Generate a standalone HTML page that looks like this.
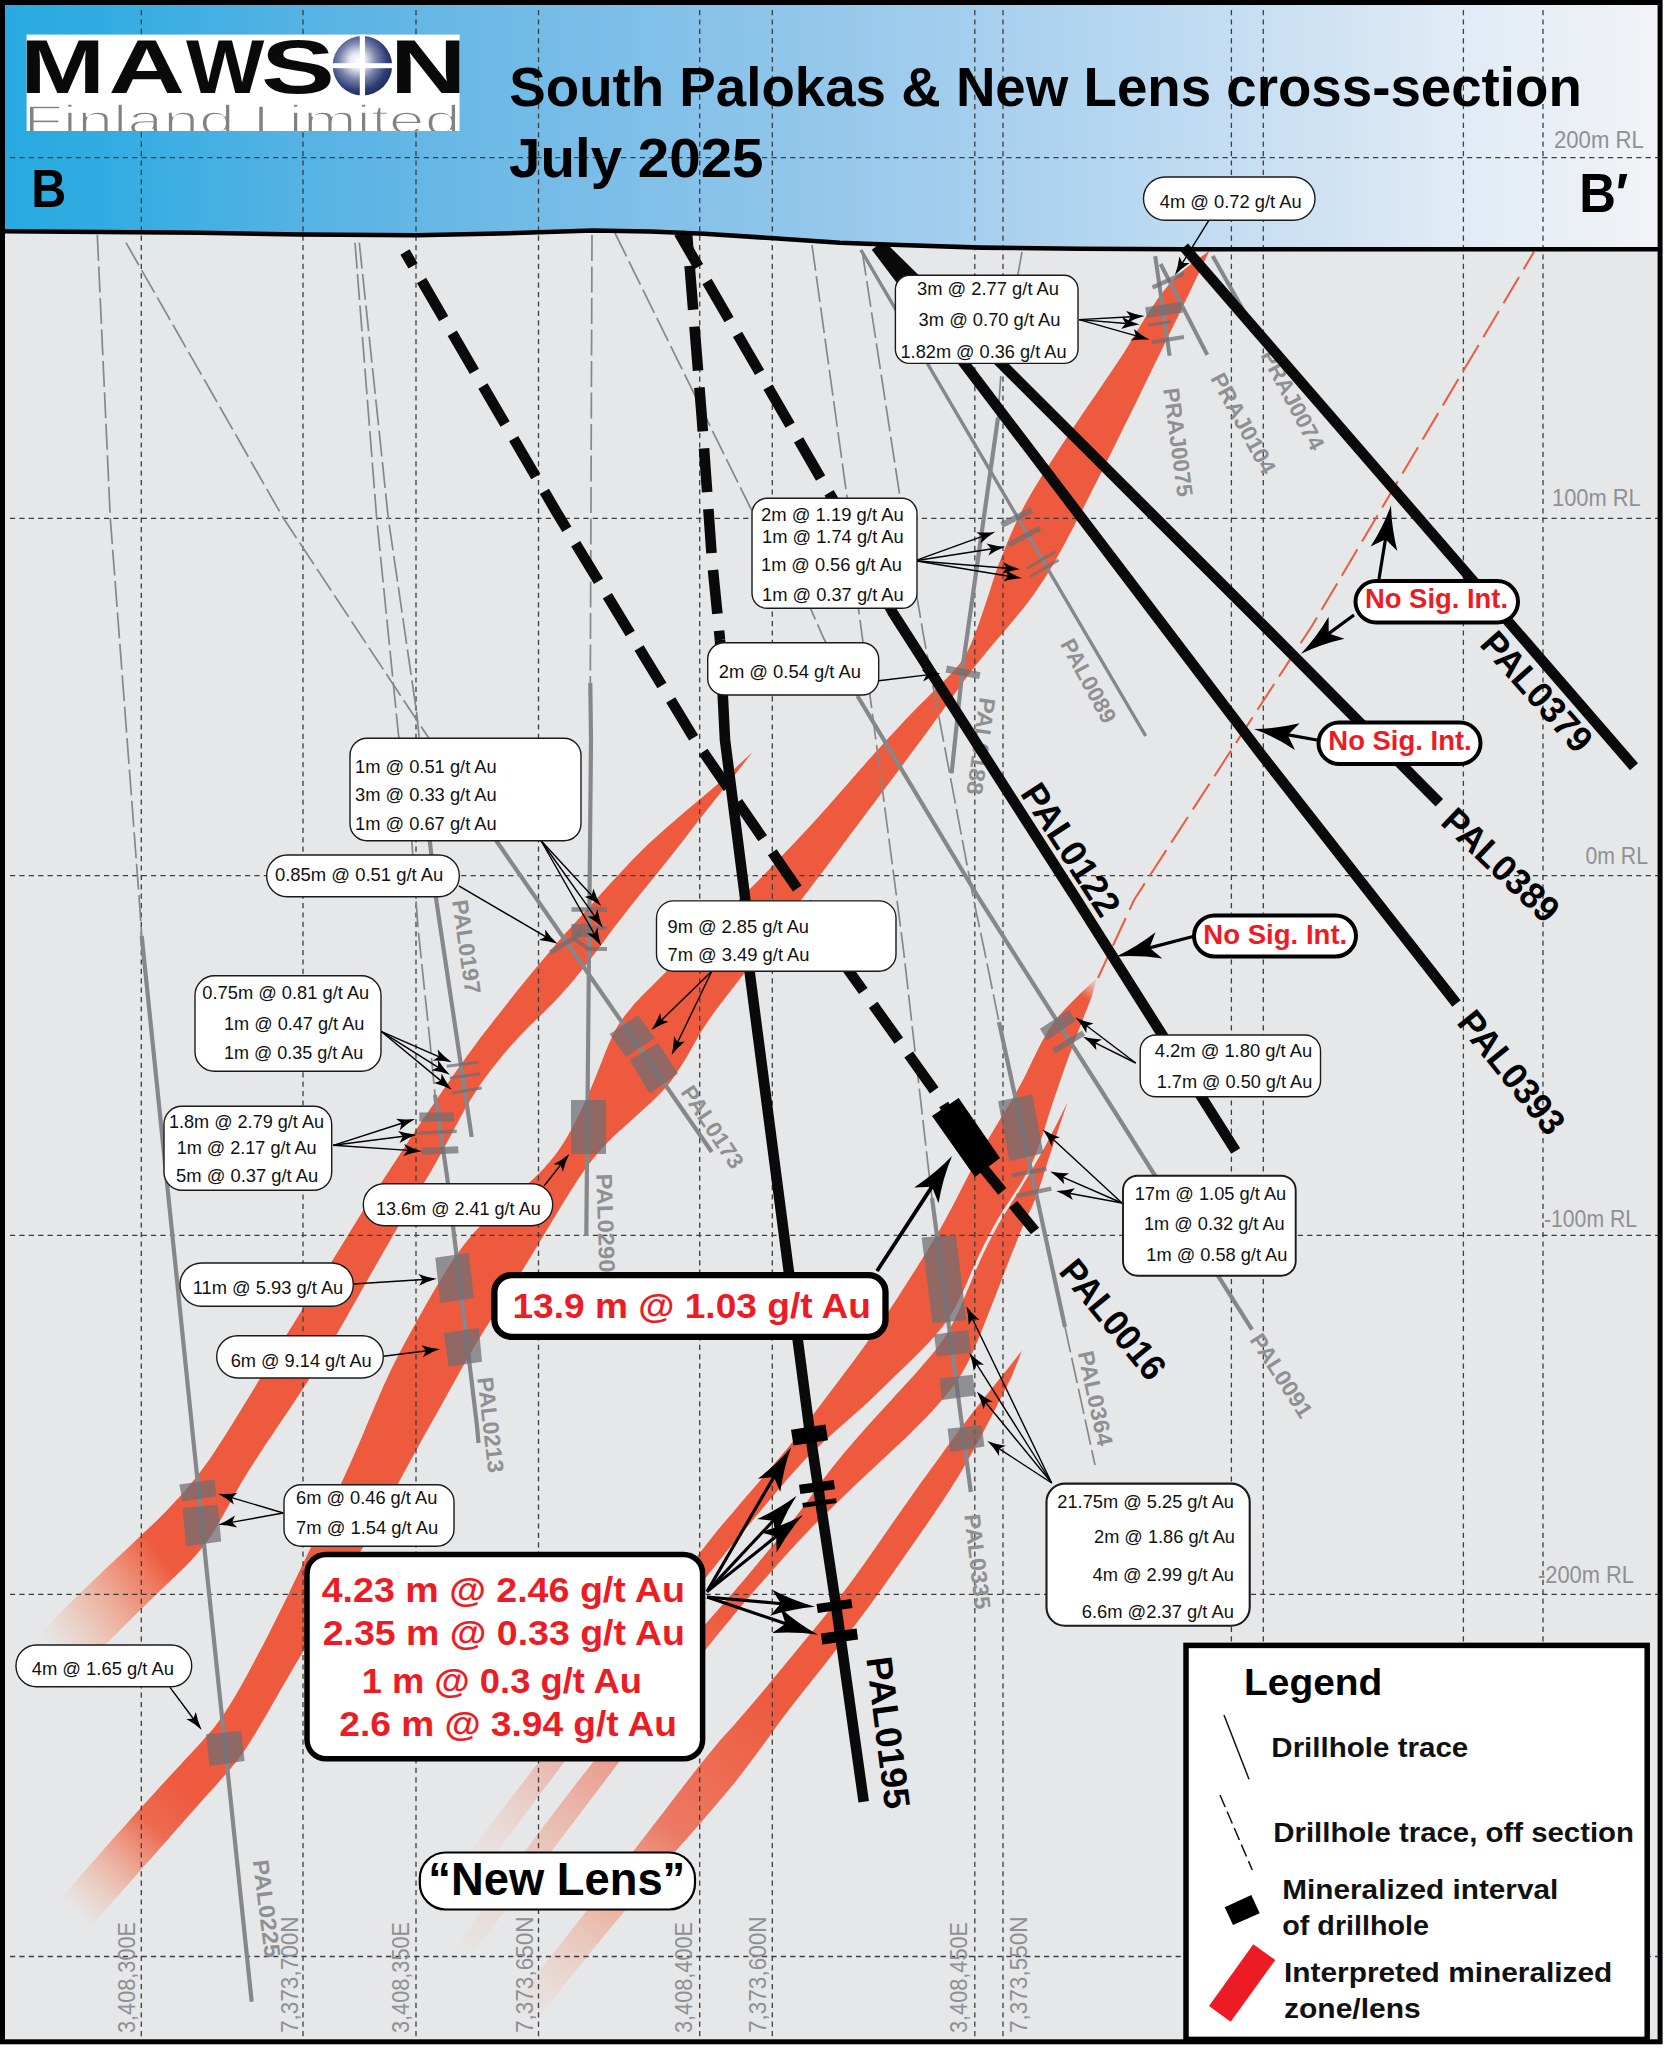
<!DOCTYPE html>
<html lang="en"><head><meta charset="utf-8"><title>South Palokas &amp; New Lens cross-section</title>
<style>html,body{margin:0;padding:0;background:#fff}svg{display:block}svg text{font-family:"Liberation Sans",Arial,Helvetica,sans-serif}</style></head>
<body>
<svg width="1671" height="2048" viewBox="0 0 1671 2048" font-family="Liberation Sans, Arial, Helvetica, sans-serif">
<defs>
<linearGradient id="hdr" x1="0" y1="0" x2="1" y2="0">
<stop offset="0" stop-color="#27AAE1"/><stop offset="0.06" stop-color="#31ACE2"/><stop offset="0.18" stop-color="#55B2E4"/><stop offset="0.32" stop-color="#73BBE7"/><stop offset="0.45" stop-color="#8CC4EA"/>
<stop offset="0.6" stop-color="#A8D0EE"/><stop offset="0.75" stop-color="#C6DEF2"/><stop offset="0.88" stop-color="#E1EBF5"/><stop offset="1" stop-color="#F2F3F6"/>
</linearGradient>
<linearGradient id="gA" gradientUnits="userSpaceOnUse" x1="162" y1="1558" x2="45" y2="1643"><stop offset="0" stop-color="#EE5A3E" stop-opacity="1"/><stop offset="1" stop-color="#F7A070" stop-opacity="0"/></linearGradient>
<linearGradient id="gB" gradientUnits="userSpaceOnUse" x1="185" y1="1790" x2="72" y2="1912"><stop offset="0" stop-color="#EE5A3E" stop-opacity="1"/><stop offset="0.3" stop-color="#EE5A3E" stop-opacity="0.88"/><stop offset="1" stop-color="#F7A070" stop-opacity="0"/></linearGradient>
<linearGradient id="gC" gradientUnits="userSpaceOnUse" x1="700" y1="1580" x2="470" y2="1870"><stop offset="0" stop-color="#EE5A3E" stop-opacity="1"/><stop offset="0.6" stop-color="#EE5A3E" stop-opacity="0.38"/><stop offset="1" stop-color="#F7A070" stop-opacity="0"/></linearGradient>
<linearGradient id="gD" gradientUnits="userSpaceOnUse" x1="720" y1="1610" x2="455" y2="1960"><stop offset="0" stop-color="#EE5A3E" stop-opacity="1"/><stop offset="0.45" stop-color="#EE5A3E" stop-opacity="0.5"/><stop offset="1" stop-color="#F7A070" stop-opacity="0"/></linearGradient>
<linearGradient id="gE" gradientUnits="userSpaceOnUse" x1="770" y1="1700" x2="520" y2="2015"><stop offset="0" stop-color="#EE5A3E" stop-opacity="1"/><stop offset="0.4" stop-color="#EE5A3E" stop-opacity="0.78"/><stop offset="1" stop-color="#F7A070" stop-opacity="0"/></linearGradient>
<linearGradient id="gT" gradientUnits="userSpaceOnUse" x1="1099" y1="976" x2="1080" y2="1008"><stop offset="0" stop-color="#EE5A3E" stop-opacity="0"/><stop offset="1" stop-color="#EE5A3E" stop-opacity="1"/></linearGradient>
<radialGradient id="globe" cx="0.42" cy="0.42" r="0.62"><stop offset="0" stop-color="#fff"/><stop offset="0.22" stop-color="#E4E7F0"/><stop offset="0.5" stop-color="#7B86AE"/><stop offset="0.8" stop-color="#2E3D75"/><stop offset="1" stop-color="#202C5E"/></radialGradient>
<clipPath id="frame"><rect x="3" y="3" width="1657" height="2039"/></clipPath>
<clipPath id="logoc"><rect x="26.6" y="34.6" width="433" height="96.4"/></clipPath>
</defs>
<rect x="0" y="0" width="1671" height="2048" fill="#fff"/>
<rect x="2.5" y="2.5" width="1657.6" height="2039.3" fill="#E6E7E8"/>
<polygon points="2.5,2.5 1660.0,2.5 1662.0,249.2 1182.0,249.2 1080.0,248.8 981.0,247.6 900.0,245.0 840.0,242.8 770.0,238.0 704.0,233.8 650.0,231.5 593.0,230.5 500.0,233.5 417.0,235.3 300.0,234.5 200.0,232.8 3.0,231.3" fill="url(#hdr)" />
<g clip-path="url(#frame)">
<path d="M752.7,752.0 C746.2,758.0 726.2,776.5 713.4,787.8 C700.6,799.0 687.5,809.5 676.0,819.5 C664.5,829.5 654.0,838.6 644.2,848.0 C634.5,857.4 627.0,865.7 617.8,875.6 C608.5,885.6 599.0,896.2 588.6,907.8 C578.2,919.3 566.2,932.3 555.3,944.9 C544.4,957.5 533.0,971.3 523.3,983.2 C513.6,995.1 505.0,1006.3 497.4,1016.1 C489.7,1026.0 483.9,1033.2 477.2,1042.2 C470.4,1051.2 463.7,1060.4 457.0,1070.0 C450.2,1079.6 443.2,1090.1 436.6,1099.6 C430.1,1109.2 423.8,1118.2 417.8,1127.2 C411.7,1136.2 406.0,1144.9 400.4,1153.5 C394.8,1162.1 390.1,1169.2 384.0,1178.5 C377.9,1187.8 371.4,1197.3 363.8,1209.4 C356.1,1221.6 346.6,1237.3 337.9,1251.6 C329.2,1265.8 321.1,1279.0 311.4,1294.7 C301.8,1310.3 291.5,1326.8 280.2,1345.3 C268.9,1363.8 254.4,1388.2 243.5,1405.8 C232.7,1423.5 223.6,1438.4 215.1,1451.0 C206.7,1463.7 200.9,1471.5 192.7,1481.6 C184.5,1491.7 175.8,1501.3 165.8,1511.5 C155.8,1521.8 144.4,1532.3 132.8,1543.2 C121.3,1554.2 108.0,1566.2 96.4,1577.4 C84.7,1588.5 72.6,1600.2 62.8,1610.2 C53.1,1620.2 45.0,1629.4 37.9,1637.4 C30.8,1645.3 23.0,1654.6 20.0,1658.0 L92.0,1658.0 C95.7,1654.4 105.7,1644.3 113.9,1636.2 C122.2,1628.0 132.3,1617.8 141.2,1609.0 C150.2,1600.2 159.4,1591.3 167.6,1583.4 C175.8,1575.4 183.4,1568.6 190.3,1561.2 C197.2,1553.8 203.3,1547.0 208.9,1539.1 C214.5,1531.2 218.5,1523.2 223.8,1514.0 C229.1,1504.8 234.4,1494.4 240.6,1484.0 C246.8,1473.6 253.6,1462.9 260.9,1451.7 C268.3,1440.4 276.3,1428.9 284.5,1416.6 C292.8,1404.3 302.0,1390.5 310.2,1377.6 C318.5,1364.7 326.4,1351.6 333.9,1339.1 C341.3,1326.5 348.1,1314.4 355.0,1302.3 C361.9,1290.2 368.4,1278.2 375.2,1266.4 C381.9,1254.6 388.5,1243.1 395.3,1231.4 C402.2,1219.7 409.7,1207.4 416.4,1196.0 C423.2,1184.5 430.0,1173.0 435.9,1162.8 C441.7,1152.6 446.4,1143.6 451.3,1134.5 C456.2,1125.5 460.2,1117.4 465.3,1108.6 C470.4,1099.8 475.7,1091.1 482.1,1082.0 C488.5,1072.9 496.5,1062.7 503.6,1054.2 C510.7,1045.7 518.5,1037.5 524.7,1030.9 C530.9,1024.4 535.8,1020.0 541.0,1014.9 C546.2,1009.7 550.7,1005.5 555.9,1000.0 C561.1,994.5 566.7,988.3 572.1,982.0 C577.5,975.7 583.2,968.4 588.2,962.0 C593.3,955.6 597.5,949.9 602.2,943.5 C607.0,937.1 611.2,931.2 617.0,923.8 C622.8,916.2 629.8,907.3 636.8,898.5 C643.8,889.7 651.6,880.2 659.0,871.0 C666.4,861.8 673.2,853.2 680.9,843.5 C688.5,833.7 696.3,823.5 704.9,812.6 C713.5,801.7 727.8,783.7 732.4,777.9 Z" fill="url(#gA)"/>
<path d="M1209.4,250.8 C1203.8,255.2 1185.6,267.2 1175.8,277.0 C1166.1,286.8 1160.1,295.5 1150.6,309.4 C1141.1,323.3 1132.3,339.9 1118.8,360.6 C1105.2,381.3 1084.9,409.9 1069.4,433.6 C1053.9,457.4 1037.2,482.4 1025.8,503.1 C1014.5,523.8 1007.6,542.1 1001.2,557.9 C994.8,573.7 991.4,586.5 987.5,598.0 C983.6,609.5 980.9,618.2 977.6,627.0 C974.4,635.7 971.7,643.4 967.9,650.5 C964.2,657.6 960.7,662.7 954.9,669.6 C949.1,676.4 941.5,683.2 933.2,691.6 C924.8,700.1 914.5,710.2 904.7,720.4 C895.0,730.7 884.8,741.9 874.8,753.0 C864.8,764.1 854.8,775.8 844.9,787.0 C835.0,798.2 824.9,809.8 815.4,820.2 C805.9,830.6 796.4,840.6 788.0,849.5 C779.5,858.4 772.5,865.9 765.0,873.7 C757.4,881.5 751.8,887.3 742.8,896.2 C733.7,905.1 722.3,915.8 710.8,927.1 C699.3,938.4 684.4,953.4 673.9,963.9 C663.4,974.4 655.0,982.8 647.8,990.1 C640.7,997.4 636.0,1002.0 631.1,1007.9 C626.1,1013.7 621.7,1019.4 618.0,1025.4 C614.4,1031.4 612.0,1036.7 608.9,1043.8 C605.8,1050.8 603.1,1058.4 599.4,1067.5 C595.7,1076.6 591.3,1088.0 586.5,1098.5 C581.7,1108.9 576.2,1120.8 570.8,1130.5 C565.4,1140.1 560.5,1148.2 554.0,1156.4 C547.6,1164.7 540.5,1171.9 532.1,1180.0 C523.8,1188.1 512.6,1197.0 503.7,1205.0 C494.8,1212.9 486.0,1220.0 478.6,1227.7 C471.3,1235.3 465.7,1242.3 459.5,1250.7 C453.3,1259.1 447.6,1268.3 441.6,1278.0 C435.6,1287.8 429.6,1298.5 423.6,1309.0 C417.6,1319.5 411.6,1330.2 405.7,1341.3 C399.8,1352.4 394.0,1363.3 388.3,1375.4 C382.6,1387.5 377.2,1400.5 371.5,1413.9 C365.8,1427.2 360.2,1441.2 353.9,1455.3 C347.7,1469.5 341.0,1483.8 333.9,1499.0 C326.8,1514.2 319.0,1530.6 311.2,1546.8 C303.4,1563.1 295.3,1580.2 287.3,1596.5 C279.3,1612.7 271.3,1629.0 263.3,1644.4 C255.3,1659.7 246.8,1675.9 239.4,1688.7 C232.0,1701.5 225.8,1711.7 219.0,1721.0 C212.2,1730.4 207.1,1735.6 198.7,1745.0 C190.3,1754.3 179.8,1765.3 168.8,1777.2 C157.8,1789.2 144.6,1803.7 132.8,1816.8 C121.1,1829.8 108.6,1843.8 98.2,1855.7 C87.7,1867.5 78.0,1878.8 70.0,1888.0 C61.9,1897.3 53.3,1907.2 50.0,1911.0 L88.0,1930.0 C90.8,1926.8 98.4,1918.0 104.6,1911.0 C110.8,1904.0 116.6,1897.4 125.1,1887.8 C133.6,1878.2 144.6,1865.7 155.6,1853.3 C166.6,1840.9 179.9,1825.6 190.9,1813.2 C201.9,1800.8 212.5,1789.4 221.4,1779.1 C230.3,1768.7 237.0,1761.1 244.2,1750.9 C251.4,1740.7 257.6,1729.5 264.5,1718.0 C271.4,1706.4 277.2,1695.8 285.5,1681.5 C293.8,1667.2 302.5,1652.9 314.3,1632.5 C326.2,1612.0 343.2,1582.5 356.6,1558.7 C370.0,1534.8 384.3,1508.5 394.8,1489.5 C405.2,1470.6 411.9,1458.1 419.1,1445.0 C426.3,1432.0 431.8,1422.3 438.0,1411.3 C444.1,1400.3 449.8,1389.8 455.9,1379.0 C462.0,1368.2 467.8,1357.7 474.4,1346.6 C481.0,1335.5 488.3,1323.9 495.6,1312.3 C502.9,1300.8 511.1,1288.3 518.1,1277.3 C525.0,1266.3 531.3,1255.9 537.3,1246.0 C543.3,1236.2 548.4,1227.2 554.0,1218.0 C559.6,1208.8 565.2,1199.5 570.8,1190.8 C576.4,1182.1 581.3,1173.9 587.6,1165.7 C593.9,1157.4 600.1,1149.9 608.5,1141.4 C616.9,1132.9 628.1,1123.7 637.8,1114.6 C647.5,1105.4 658.6,1095.9 666.6,1086.4 C674.6,1077.0 680.0,1067.5 686.1,1057.9 C692.2,1048.2 696.9,1038.2 703.1,1028.5 C709.4,1018.8 715.2,1011.0 723.7,999.8 C732.2,988.5 742.0,976.3 754.0,960.9 C766.0,945.4 782.6,924.1 795.7,907.1 C808.7,890.1 821.4,873.3 832.2,858.9 C843.1,844.4 851.1,833.4 860.7,820.7 C870.3,807.9 879.9,795.2 889.8,782.1 C899.6,769.0 910.2,754.9 919.7,742.1 C929.2,729.3 938.6,716.2 946.6,705.1 C954.7,694.0 961.1,684.6 967.9,675.5 C974.8,666.5 980.9,658.9 987.8,650.5 C994.6,642.1 1002.1,633.8 1009.1,625.4 C1016.1,617.0 1022.8,609.5 1029.7,600.1 C1036.6,590.7 1043.0,581.4 1050.6,568.8 C1058.2,556.1 1066.3,540.8 1075.1,524.0 C1084.0,507.2 1093.0,489.0 1103.7,467.8 C1114.3,446.5 1125.8,423.3 1139.0,396.5 C1152.2,369.7 1175.3,321.9 1182.6,307.0 Z" fill="url(#gB)"/>
<path d="M1096.8,978.0 C1093.7,981.0 1083.9,990.0 1077.9,995.9 C1072.0,1001.8 1066.2,1007.3 1061.2,1013.3 C1056.1,1019.2 1051.9,1024.7 1047.7,1031.5 C1043.5,1038.3 1039.7,1046.1 1035.7,1054.0 C1031.7,1061.8 1027.8,1070.8 1023.8,1078.5 C1019.8,1086.2 1015.8,1093.4 1011.8,1100.3 C1007.8,1107.2 1003.8,1113.2 999.8,1119.8 C995.8,1126.4 991.9,1132.9 987.9,1139.8 C983.9,1146.7 979.8,1154.1 975.9,1161.3 C972.0,1168.6 967.9,1176.3 964.2,1183.4 C960.5,1190.5 957.5,1196.8 953.6,1204.2 C949.7,1211.6 945.8,1219.0 940.7,1228.0 C935.6,1236.9 928.9,1248.0 922.7,1258.1 C916.5,1268.1 910.1,1278.1 903.6,1288.2 C897.2,1298.2 891.2,1307.4 883.9,1318.2 C876.5,1329.0 868.5,1340.6 859.6,1352.8 C850.8,1365.0 839.8,1379.3 830.8,1391.3 C821.7,1403.4 812.7,1415.5 805.4,1425.1 C798.0,1434.8 793.7,1440.6 786.8,1449.1 C779.9,1457.6 772.6,1465.9 764.1,1475.9 C755.5,1485.9 744.3,1499.0 735.6,1509.2 C727.0,1519.4 724.6,1521.5 712.1,1537.2 C699.6,1553.0 685.6,1571.0 660.5,1603.6 C635.3,1636.1 591.5,1693.5 561.4,1732.6 C531.3,1771.7 500.2,1812.2 480.0,1838.5 C459.8,1864.7 446.7,1881.4 440.0,1890.0 L468.0,1892.0 C474.4,1883.2 487.6,1864.6 506.7,1839.0 C525.8,1813.3 554.7,1774.6 582.5,1737.8 C610.4,1701.1 650.6,1648.6 673.9,1618.5 C697.2,1588.4 710.8,1571.4 722.2,1557.1 C733.6,1542.8 735.3,1541.3 742.4,1532.8 C749.5,1524.2 757.4,1514.7 764.8,1505.8 C772.2,1497.0 779.3,1488.2 786.9,1479.7 C794.5,1471.1 801.9,1462.7 810.4,1454.2 C818.9,1445.8 828.2,1437.7 838.0,1428.8 C847.8,1420.0 858.7,1410.7 869.2,1400.9 C879.8,1391.0 891.5,1379.6 901.4,1369.8 C911.3,1360.1 920.9,1351.0 928.8,1342.5 C936.6,1333.9 942.8,1327.1 948.5,1318.7 C954.2,1310.2 958.2,1301.5 962.9,1291.8 C967.6,1282.0 971.9,1270.4 976.8,1259.9 C981.7,1249.4 987.5,1237.7 992.3,1228.9 C997.1,1220.1 1001.6,1213.1 1005.4,1207.1 C1009.1,1201.0 1011.8,1197.4 1014.8,1192.7 C1017.8,1188.0 1020.7,1183.6 1023.5,1178.7 C1026.3,1173.8 1029.3,1168.7 1031.9,1163.2 C1034.5,1157.6 1036.7,1151.9 1039.0,1145.5 C1041.3,1139.2 1043.4,1132.2 1045.6,1125.2 C1047.8,1118.2 1050.2,1110.7 1052.5,1103.6 C1054.8,1096.5 1057.3,1089.4 1059.7,1082.3 C1062.1,1075.2 1064.6,1068.3 1067.2,1061.1 C1069.8,1053.9 1072.5,1046.6 1075.2,1039.3 C1078.0,1032.0 1080.8,1024.7 1083.6,1017.5 C1086.4,1010.2 1090.6,999.5 1092.0,995.9 Z" fill="url(#gC)"/>
<path d="M1067.5,1102.4 C1065.5,1106.3 1059.4,1118.8 1055.7,1126.1 C1052.0,1133.4 1048.6,1139.9 1045.3,1146.1 C1042.0,1152.3 1038.9,1157.7 1035.7,1163.2 C1032.6,1168.6 1029.4,1173.8 1026.5,1178.7 C1023.5,1183.6 1021.0,1188.0 1018.1,1192.7 C1015.2,1197.4 1012.7,1201.0 1009.0,1207.1 C1005.3,1213.1 1000.7,1220.1 995.9,1228.9 C991.1,1237.7 985.2,1249.4 980.4,1259.9 C975.5,1270.5 971.1,1282.0 966.7,1292.2 C962.3,1302.4 958.5,1312.0 953.9,1320.9 C949.3,1329.8 945.0,1337.2 938.9,1345.6 C932.7,1354.1 925.8,1361.8 917.1,1371.7 C908.4,1381.5 897.0,1393.7 886.9,1404.8 C876.8,1415.9 865.7,1428.1 856.8,1438.3 C847.8,1448.5 840.3,1457.4 833.5,1466.0 C826.6,1474.5 821.3,1482.1 815.7,1489.7 C810.1,1497.3 805.3,1504.4 799.8,1511.6 C794.3,1518.8 788.8,1525.7 782.8,1533.1 C776.8,1540.6 770.4,1548.2 763.7,1556.3 C757.0,1564.4 749.3,1573.6 742.4,1581.8 C735.5,1589.9 732.5,1593.0 722.2,1604.9 C711.9,1616.9 700.4,1629.6 680.5,1653.7 C660.6,1677.8 627.9,1717.8 602.9,1749.4 C577.9,1781.1 550.2,1817.5 530.5,1843.6 C510.8,1869.8 497.4,1888.1 484.4,1906.5 C471.5,1924.8 458.0,1945.8 452.7,1953.7 L471.8,1953.7 C478.0,1945.8 494.6,1924.8 508.9,1906.5 C523.2,1888.1 538.4,1868.6 557.4,1843.6 C576.4,1818.7 601.0,1785.7 623.0,1756.8 C644.9,1727.9 670.3,1694.5 689.2,1670.4 C708.1,1646.3 722.2,1629.1 736.3,1612.1 C750.4,1595.1 761.8,1582.2 774.0,1568.4 C786.2,1554.7 797.8,1541.8 809.5,1529.7 C821.3,1517.5 832.5,1506.8 844.5,1495.4 C856.4,1483.9 869.8,1471.6 881.2,1460.8 C892.6,1450.1 903.1,1440.3 912.6,1430.9 C922.1,1421.5 930.5,1413.1 938.1,1404.4 C945.8,1395.7 952.7,1387.4 958.4,1378.8 C964.0,1370.3 967.9,1362.6 972.3,1353.2 C976.7,1343.9 980.5,1333.5 984.9,1322.7 C989.2,1311.9 993.8,1300.1 998.3,1288.6 C1002.8,1277.1 1007.4,1264.5 1011.8,1253.6 C1016.1,1242.7 1020.7,1231.4 1024.3,1223.1 C1028.0,1214.7 1031.0,1209.3 1033.5,1203.3 C1036.1,1197.4 1037.6,1193.2 1039.6,1187.3 C1041.6,1181.5 1043.5,1175.0 1045.6,1168.3 C1047.7,1161.6 1050.2,1154.2 1052.5,1147.0 C1054.8,1139.8 1058.5,1128.8 1059.7,1125.2 Z" fill="url(#gD)"/>
<path d="M1022.0,1350.6 C1018.5,1355.0 1008.4,1367.7 1001.0,1377.0 C993.5,1386.3 985.0,1396.7 977.4,1406.4 C969.7,1416.2 962.2,1426.2 955.2,1435.5 C948.3,1444.8 942.6,1452.9 935.9,1462.2 C929.1,1471.5 922.0,1481.1 914.7,1491.4 C907.4,1501.7 899.5,1513.0 892.0,1523.8 C884.4,1534.6 877.0,1545.7 869.5,1556.3 C862.0,1566.9 854.6,1577.4 847.1,1587.3 C839.6,1597.3 832.2,1606.8 824.7,1616.2 C817.2,1625.5 809.7,1634.4 802.2,1643.5 C794.7,1652.6 787.3,1661.7 779.8,1670.8 C772.3,1679.9 764.7,1689.3 757.3,1698.1 C750.0,1706.8 742.2,1715.8 735.6,1723.3 C729.0,1730.9 725.3,1734.3 717.7,1743.3 C710.1,1752.4 702.9,1761.2 690.0,1777.7 C677.1,1794.2 658.7,1818.5 640.2,1842.3 C621.7,1866.2 598.2,1896.2 578.9,1920.8 C559.6,1945.4 538.3,1972.2 524.3,1989.9 C510.3,2007.6 499.9,2020.8 495.0,2027.0 L531.0,2027.0 C535.9,2020.8 545.8,2007.7 560.2,1989.9 C574.6,1972.1 598.8,1942.2 617.2,1920.1 C635.6,1898.0 656.0,1874.3 670.6,1857.2 C685.3,1840.1 694.4,1830.2 705.2,1817.5 C716.1,1804.8 726.6,1792.6 736.0,1781.0 C745.3,1769.4 753.6,1757.9 761.1,1747.8 C768.6,1737.7 774.0,1729.5 780.9,1720.3 C787.8,1711.2 794.9,1702.2 802.2,1692.8 C809.5,1683.5 817.2,1673.9 824.7,1664.4 C832.2,1654.9 839.6,1645.4 847.1,1635.6 C854.6,1625.8 862.0,1615.9 869.5,1605.7 C877.0,1595.5 884.4,1585.1 892.0,1574.3 C899.6,1563.5 907.3,1552.3 915.2,1541.0 C923.1,1529.6 931.5,1517.8 939.1,1506.3 C946.7,1494.8 954.3,1483.2 961.0,1472.0 C967.7,1460.7 973.7,1449.7 979.5,1439.0 C985.3,1428.3 990.5,1418.1 995.8,1407.9 C1001.1,1397.6 1008.7,1382.6 1011.3,1377.5 Z" fill="url(#gE)"/>
<linearGradient id="gT2" gradientUnits="userSpaceOnUse" x1="1098" y1="977" x2="1084" y2="997"><stop offset="0" stop-color="#E6E7E8" stop-opacity="1"/><stop offset="1" stop-color="#E6E7E8" stop-opacity="0"/></linearGradient>
<polygon points="1102.0,972.0 1060.0,1006.0 1072.0,1020.0 1094.0,1012.0" fill="url(#gT2)" />
<line x1="141.3" y1="10" x2="141.3" y2="2040" stroke="#3d3d3d" stroke-width="1.3" stroke-dasharray="5.2 4.2"/>
<line x1="303.0" y1="10" x2="303.0" y2="2040" stroke="#3d3d3d" stroke-width="1.3" stroke-dasharray="5.2 4.2"/>
<line x1="416.0" y1="10" x2="416.0" y2="2040" stroke="#3d3d3d" stroke-width="1.3" stroke-dasharray="5.2 4.2"/>
<line x1="538.5" y1="10" x2="538.5" y2="2040" stroke="#3d3d3d" stroke-width="1.3" stroke-dasharray="5.2 4.2"/>
<line x1="699.7" y1="10" x2="699.7" y2="2040" stroke="#3d3d3d" stroke-width="1.3" stroke-dasharray="5.2 4.2"/>
<line x1="772.3" y1="10" x2="772.3" y2="2040" stroke="#3d3d3d" stroke-width="1.3" stroke-dasharray="5.2 4.2"/>
<line x1="974.8" y1="10" x2="974.8" y2="2040" stroke="#3d3d3d" stroke-width="1.3" stroke-dasharray="5.2 4.2"/>
<line x1="1003.0" y1="10" x2="1003.0" y2="2040" stroke="#3d3d3d" stroke-width="1.3" stroke-dasharray="5.2 4.2"/>
<line x1="1231.4" y1="10" x2="1231.4" y2="2040" stroke="#3d3d3d" stroke-width="1.3" stroke-dasharray="5.2 4.2"/>
<line x1="1263.3" y1="10" x2="1263.3" y2="2040" stroke="#3d3d3d" stroke-width="1.3" stroke-dasharray="5.2 4.2"/>
<line x1="1463.4" y1="10" x2="1463.4" y2="2040" stroke="#3d3d3d" stroke-width="1.3" stroke-dasharray="5.2 4.2"/>
<line x1="1543.0" y1="10" x2="1543.0" y2="2040" stroke="#3d3d3d" stroke-width="1.3" stroke-dasharray="5.2 4.2"/>
<line x1="10" y1="157.6" x2="1658" y2="157.6" stroke="#3d3d3d" stroke-width="1.3" stroke-dasharray="5.2 4.2"/>
<line x1="10" y1="518.3" x2="1658" y2="518.3" stroke="#3d3d3d" stroke-width="1.3" stroke-dasharray="5.2 4.2"/>
<line x1="10" y1="875.7" x2="1658" y2="875.7" stroke="#3d3d3d" stroke-width="1.3" stroke-dasharray="5.2 4.2"/>
<line x1="10" y1="1235.4" x2="1658" y2="1235.4" stroke="#3d3d3d" stroke-width="1.3" stroke-dasharray="5.2 4.2"/>
<line x1="10" y1="1594.4" x2="1658" y2="1594.4" stroke="#3d3d3d" stroke-width="1.3" stroke-dasharray="5.2 4.2"/>
<line x1="10" y1="1956.5" x2="1658" y2="1956.5" stroke="#3d3d3d" stroke-width="1.3" stroke-dasharray="5.2 4.2"/>
<text x="1554.0" y="148.3" font-size="23.0" font-weight="normal" fill="#8E9093" textLength="89.7" lengthAdjust="spacingAndGlyphs" >200m RL</text>
<text x="1552.0" y="506.0" font-size="23.0" font-weight="normal" fill="#8E9093" textLength="88.7" lengthAdjust="spacingAndGlyphs" >100m RL</text>
<text x="1585.5" y="863.5" font-size="23.0" font-weight="normal" fill="#8E9093" textLength="62.5" lengthAdjust="spacingAndGlyphs" >0m RL</text>
<text x="1544.0" y="1227.0" font-size="23.0" font-weight="normal" fill="#8E9093" textLength="93.0" lengthAdjust="spacingAndGlyphs" >-100m RL</text>
<text x="1538.0" y="1583.3" font-size="23.0" font-weight="normal" fill="#8E9093" textLength="96.0" lengthAdjust="spacingAndGlyphs" >-200m RL</text>
<text transform="translate(135.0,2033.0) rotate(-90.0)" x="0" y="0" font-size="23.0" font-weight="normal" fill="#8E9093" textLength="111.0" lengthAdjust="spacingAndGlyphs" >3,408,300E</text>
<text transform="translate(298.0,2033.0) rotate(-90.0)" x="0" y="0" font-size="23.0" font-weight="normal" fill="#8E9093" textLength="116.5" lengthAdjust="spacingAndGlyphs" >7,373,700N</text>
<text transform="translate(408.5,2033.0) rotate(-90.0)" x="0" y="0" font-size="23.0" font-weight="normal" fill="#8E9093" textLength="111.0" lengthAdjust="spacingAndGlyphs" >3,408,350E</text>
<text transform="translate(532.5,2033.0) rotate(-90.0)" x="0" y="0" font-size="23.0" font-weight="normal" fill="#8E9093" textLength="116.5" lengthAdjust="spacingAndGlyphs" >7,373,650N</text>
<text transform="translate(692.0,2033.0) rotate(-90.0)" x="0" y="0" font-size="23.0" font-weight="normal" fill="#8E9093" textLength="111.0" lengthAdjust="spacingAndGlyphs" >3,408,400E</text>
<text transform="translate(765.5,2033.0) rotate(-90.0)" x="0" y="0" font-size="23.0" font-weight="normal" fill="#8E9093" textLength="116.5" lengthAdjust="spacingAndGlyphs" >7,373,600N</text>
<text transform="translate(967.0,2033.0) rotate(-90.0)" x="0" y="0" font-size="23.0" font-weight="normal" fill="#8E9093" textLength="111.0" lengthAdjust="spacingAndGlyphs" >3,408,450E</text>
<text transform="translate(1027.0,2033.0) rotate(-90.0)" x="0" y="0" font-size="23.0" font-weight="normal" fill="#8E9093" textLength="116.5" lengthAdjust="spacingAndGlyphs" >7,373,550N</text>
<polyline points="97.3,235.0 110.3,518.3 139.3,900.0 141.7,936.0" fill="none" stroke="#85878A" stroke-width="1.7" stroke-dasharray="26 5.5" />
<polyline points="141.7,936.0 208.0,1583.0 251.7,2001.7" fill="none" stroke="#85878A" stroke-width="4.2" />
<polyline points="126.0,242.7 283.5,518.3 416.7,720.0 497.0,840.5" fill="none" stroke="#85878A" stroke-width="1.7" stroke-dasharray="26 5.5" />
<polyline points="493.0,836.0 711.8,1152.0" fill="none" stroke="#85878A" stroke-width="4.2" />
<polyline points="355.0,242.7 376.7,518.3 398.3,733.0 411.8,840.5 418.0,928.0 430.0,1042.0 435.0,1095.0" fill="none" stroke="#85878A" stroke-width="1.7" stroke-dasharray="26 5.5" />
<polyline points="435.0,1095.0 447.0,1176.0 477.0,1426.0 478.5,1443.0" fill="none" stroke="#85878A" stroke-width="4.2" />
<polyline points="359.3,242.7 388.3,518.3 416.7,713.0 428.0,825.0" fill="none" stroke="#85878A" stroke-width="1.7" stroke-dasharray="26 5.5" />
<polyline points="428.0,825.0 436.7,903.0 471.7,1137.0" fill="none" stroke="#85878A" stroke-width="4.2" />
<polyline points="592.0,235.0 590.3,683.0" fill="none" stroke="#85878A" stroke-width="1.7" stroke-dasharray="26 5.5" />
<polyline points="590.3,683.0 591.0,740.0 586.3,1236.0" fill="none" stroke="#85878A" stroke-width="4.2" />
<polyline points="615.0,233.0 750.0,507.0 810.6,608.7 824.0,639.0 857.5,696.0" fill="none" stroke="#85878A" stroke-width="1.7" stroke-dasharray="26 5.5" />
<polyline points="857.5,696.0 980.0,900.0 1113.7,1110.0 1252.0,1329.7" fill="none" stroke="#85878A" stroke-width="4.2" />
<polyline points="812.0,245.0 847.0,497.0 858.7,610.0 897.0,900.0 903.5,950.0 927.4,1159.6 932.0,1198.0" fill="none" stroke="#85878A" stroke-width="1.7" stroke-dasharray="26 5.5" />
<polyline points="932.0,1198.0 970.8,1492.0" fill="none" stroke="#85878A" stroke-width="4.2" />
<polyline points="862.0,250.0 900.0,497.0 923.7,636.7 973.7,900.0 984.3,950.0 999.0,1022.0" fill="none" stroke="#85878A" stroke-width="1.7" stroke-dasharray="26 5.5" />
<polyline points="999.0,1022.0 1065.0,1327.0" fill="none" stroke="#85878A" stroke-width="4.2" />
<polyline points="1065.0,1327.0 1095.0,1465.0" fill="none" stroke="#85878A" stroke-width="1.7" stroke-dasharray="26 5.5" />
<polyline points="860.9,250.0 1145.7,736.0" fill="none" stroke="#85878A" stroke-width="3.4" />
<polyline points="1022.0,252.0 1001.6,364.0 998.0,417.7" fill="none" stroke="#85878A" stroke-width="1.7" stroke-dasharray="26 5.5" />
<polyline points="998.0,417.7 962.9,665.3 951.6,773.4" fill="none" stroke="#85878A" stroke-width="4.2" />
<polyline points="1155.2,256.1 1169.6,355.8" fill="none" stroke="#85878A" stroke-width="4.0" />
<polyline points="1160.6,264.0 1207.3,354.9" fill="none" stroke="#85878A" stroke-width="4.0" />
<polyline points="1212.7,256.1 1250.0,322.0" fill="none" stroke="#85878A" stroke-width="4.0" />
<polyline points="1534.0,251.7 1312.5,625.0 1134.0,900.0 1098.0,978.0" fill="none" stroke="#EE5A3E" stroke-width="2.0" stroke-dasharray="30.6 9" stroke-dashoffset="10.3"/>
<text transform="translate(1163.3,389.0) rotate(82.5)" x="0" y="0" font-size="22.5" font-weight="bold" fill="#8E9093" textLength="109.6" lengthAdjust="spacingAndGlyphs" >PRAJ0075</text>
<text transform="translate(1210.0,378.3) rotate(61.5)" x="0" y="0" font-size="22.5" font-weight="bold" fill="#8E9093" textLength="111.1" lengthAdjust="spacingAndGlyphs" >PRAJ0104</text>
<text transform="translate(1260.3,354.9) rotate(62.2)" x="0" y="0" font-size="22.5" font-weight="bold" fill="#8E9093" textLength="109.7" lengthAdjust="spacingAndGlyphs" >PRAJ0074</text>
<text transform="translate(1059.7,643.9) rotate(61.6)" x="0" y="0" font-size="22.5" font-weight="bold" fill="#8E9093" textLength="92.2" lengthAdjust="spacingAndGlyphs" >PAL0089</text>
<text transform="translate(980.0,696.7) rotate(97.9)" x="0" y="0" font-size="22.5" font-weight="bold" fill="#8E9093" textLength="97.7" lengthAdjust="spacingAndGlyphs" >PAL0188</text>
<text transform="translate(452.0,900.9) rotate(81.8)" x="0" y="0" font-size="22.5" font-weight="bold" fill="#8E9093" textLength="94.8" lengthAdjust="spacingAndGlyphs" >PAL0197</text>
<text transform="translate(680.0,1091.9) rotate(56.6)" x="0" y="0" font-size="22.5" font-weight="bold" fill="#8E9093" textLength="94.3" lengthAdjust="spacingAndGlyphs" >PAL0173</text>
<text transform="translate(596.2,1174.0) rotate(88.1)" x="0" y="0" font-size="22.5" font-weight="bold" fill="#8E9093" textLength="98.9" lengthAdjust="spacingAndGlyphs" >PAL0290</text>
<text transform="translate(477.3,1378.0) rotate(83.4)" x="0" y="0" font-size="22.5" font-weight="bold" fill="#8E9093" textLength="96.3" lengthAdjust="spacingAndGlyphs" >PAL0213</text>
<text transform="translate(252.7,1860.7) rotate(82.8)" x="0" y="0" font-size="22.5" font-weight="bold" fill="#8E9093" textLength="98.4" lengthAdjust="spacingAndGlyphs" >PAL0225</text>
<text transform="translate(964.3,1515.0) rotate(83.4)" x="0" y="0" font-size="22.5" font-weight="bold" fill="#8E9093" textLength="95.6" lengthAdjust="spacingAndGlyphs" >PAL0335</text>
<text transform="translate(1077.7,1352.7) rotate(77.9)" x="0" y="0" font-size="22.5" font-weight="bold" fill="#8E9093" textLength="96.5" lengthAdjust="spacingAndGlyphs" >PAL0364</text>
<text transform="translate(1249.0,1339.7) rotate(57.1)" x="0" y="0" font-size="22.5" font-weight="bold" fill="#8E9093" textLength="95.3" lengthAdjust="spacingAndGlyphs" >PAL0091</text>
<polyline points="1184.0,247.0 1634.0,766.7" fill="none" stroke="#0a0a0a" stroke-width="10.6" />
<polyline points="882.0,246.5 1001.6,364.0 1260.0,622.0 1439.3,802.7" fill="none" stroke="#0a0a0a" stroke-width="10.6" />
<polyline points="876.0,246.5 964.7,364.0 1260.0,752.8 1456.5,1003.5" fill="none" stroke="#0a0a0a" stroke-width="10.6" />
<polyline points="679.0,233.0 820.0,477.0 835.0,503.0" fill="none" stroke="#0a0a0a" stroke-width="10.6" stroke-dasharray="44 17" stroke-dashoffset="5"/>
<polyline points="872.0,575.0 893.0,613.0 1077.0,900.0 1235.7,1151.0" fill="none" stroke="#0a0a0a" stroke-width="10.6" />
<polyline points="405.0,252.0 480.0,381.0 557.0,513.0 695.0,740.0 799.0,891.0 849.0,971.0 939.0,1097.0 984.0,1169.0 1035.0,1231.0" fill="none" stroke="#0a0a0a" stroke-width="10.6" stroke-dasharray="44 17" stroke-dashoffset="28"/>
<polyline points="687.0,233.0 702.0,420.0 712.0,560.0 720.0,640.0" fill="none" stroke="#0a0a0a" stroke-width="10.6" stroke-dasharray="44 17" stroke-dashoffset="28"/>
<polyline points="720.0,640.0 725.0,740.0 745.0,897.0 750.0,975.0 789.0,1273.0 809.0,1426.0 836.5,1609.0 863.7,1801.7" fill="none" stroke="#0a0a0a" stroke-width="10.6" />
<polygon points="932.0,1116.0 958.7,1098.0 1000.0,1158.0 975.0,1177.0" fill="#000" />
<polygon points="793.5,1445.6 828.0,1440.2 825.5,1424.4 791.0,1429.8" fill="#000" fill-opacity="1.00"/>
<polygon points="800.3,1494.1 835.0,1489.3 833.7,1479.9 799.0,1484.7" fill="#000" fill-opacity="1.00"/>
<polygon points="803.0,1507.8 836.7,1503.1 836.0,1498.2 802.3,1502.9" fill="#000" fill-opacity="1.00"/>
<polygon points="817.8,1612.9 852.5,1608.0 851.2,1599.1 816.5,1604.0" fill="#000" fill-opacity="1.00"/>
<polygon points="822.4,1644.5 858.1,1639.4 856.6,1628.5 820.9,1633.6" fill="#000" fill-opacity="1.00"/>
<text transform="translate(1478.6,644.9) rotate(48.4)" x="0" y="0" font-size="36.5" font-weight="bold" fill="#000" textLength="147.2" lengthAdjust="spacingAndGlyphs" >PAL0379</text>
<text transform="translate(1439.3,823.5) rotate(43.8)" x="0" y="0" font-size="36.5" font-weight="bold" fill="#000" textLength="146.4" lengthAdjust="spacingAndGlyphs" >PAL0389</text>
<text transform="translate(1455.7,1023.0) rotate(51.2)" x="0" y="0" font-size="36.5" font-weight="bold" fill="#000" textLength="147.2" lengthAdjust="spacingAndGlyphs" >PAL0393</text>
<text transform="translate(1019.5,793.5) rotate(57.0)" x="0" y="0" font-size="36.5" font-weight="bold" fill="#000" textLength="150.0" lengthAdjust="spacingAndGlyphs" >PAL0122</text>
<text transform="translate(1057.7,1271.9) rotate(50.6)" x="0" y="0" font-size="36.5" font-weight="bold" fill="#000" textLength="143.8" lengthAdjust="spacingAndGlyphs" >PAL0016</text>
<text transform="translate(866.3,1658.3) rotate(82.9)" x="0" y="0" font-size="36.5" font-weight="bold" fill="#000" textLength="152.9" lengthAdjust="spacingAndGlyphs" >PAL0195</text>
<polygon points="921.6,1237.5 955.7,1234.8 966.5,1320.0 932.4,1323.6" fill="#6D6E71" fill-opacity="0.72"/>
<polygon points="934.1,1334.4 968.3,1329.9 971.0,1352.4 936.8,1356.8" fill="#6D6E71" fill-opacity="0.72"/>
<polygon points="939.5,1378.4 972.7,1374.8 975.4,1395.4 942.2,1399.9" fill="#6D6E71" fill-opacity="0.72"/>
<polygon points="947.6,1428.7 981.7,1425.0 984.4,1446.6 950.3,1452.0" fill="#6D6E71" fill-opacity="0.72"/>
<polygon points="998.0,1101.2 1032.2,1094.6 1043.5,1153.3 1009.4,1161.1" fill="#6D6E71" fill-opacity="0.72"/>
<polygon points="1012.2,1177.5 1046.9,1171.0 1046.1,1166.8 1011.4,1173.3" fill="#6D6E71" fill-opacity="0.72"/>
<polygon points="1017.0,1197.9 1051.7,1190.7 1050.9,1186.5 1016.2,1193.7" fill="#6D6E71" fill-opacity="0.72"/>
<polygon points="1039.9,1028.8 1068.7,1010.3 1075.8,1020.4 1047.1,1040.2" fill="#6D6E71" fill-opacity="0.72"/>
<polygon points="1055.2,1053.6 1085.1,1035.6 1082.1,1030.4 1052.2,1048.4" fill="#6D6E71" fill-opacity="0.72"/>
<polygon points="179.3,1484.6 214.5,1479.6 216.2,1496.4 182.6,1501.4" fill="#6D6E71" fill-opacity="0.72"/>
<polygon points="182.6,1508.0 217.8,1504.7 221.2,1541.6 186.0,1546.6" fill="#6D6E71" fill-opacity="0.72"/>
<polygon points="206.0,1734.3 241.3,1731.0 244.6,1761.0 209.5,1766.0" fill="#6D6E71" fill-opacity="0.72"/>
<polygon points="435.3,1257.8 468.8,1252.7 473.8,1298.0 440.3,1303.0" fill="#6D6E71" fill-opacity="0.72"/>
<polygon points="443.7,1333.0 478.9,1328.0 482.0,1361.7 448.7,1366.7" fill="#6D6E71" fill-opacity="0.72"/>
<polygon points="571.0,1100.0 606.0,1100.0 606.0,1154.0 571.0,1154.0" fill="#6D6E71" fill-opacity="0.72"/>
<polygon points="609.6,1034.0 638.0,1015.5 654.8,1038.0 626.0,1056.7" fill="#6D6E71" fill-opacity="0.72"/>
<polygon points="629.7,1060.0 658.0,1043.0 678.0,1073.4 649.8,1093.5" fill="#6D6E71" fill-opacity="0.72"/>
<polygon points="419.3,1121.5 454.0,1121.5 454.0,1112.5 419.3,1112.5" fill="#6D6E71" fill-opacity="0.72"/>
<polygon points="418.4,1134.7 456.8,1133.0 456.6,1129.6 418.2,1131.3" fill="#6D6E71" fill-opacity="0.72"/>
<polygon points="421.9,1154.8 458.5,1153.2 458.1,1146.2 421.5,1147.8" fill="#6D6E71" fill-opacity="0.72"/>
<polygon points="446.9,1067.8 478.5,1063.8 478.1,1060.8 446.5,1064.8" fill="#6D6E71" fill-opacity="0.72"/>
<polygon points="450.2,1079.5 480.2,1075.2 479.8,1072.2 449.8,1076.5" fill="#6D6E71" fill-opacity="0.72"/>
<polygon points="451.9,1094.5 481.9,1089.5 481.5,1086.5 451.5,1091.5" fill="#6D6E71" fill-opacity="0.72"/>
<polygon points="571.5,911.8 607.0,911.8 607.0,907.2 571.5,907.2" fill="#6D6E71" fill-opacity="0.72"/>
<polygon points="571.5,924.0 591.0,924.0 591.0,937.0 571.5,937.0" fill="#6D6E71" fill-opacity="0.72"/>
<polygon points="590.0,930.0 607.0,930.0 607.0,926.0 590.0,926.0" fill="#6D6E71" fill-opacity="0.72"/>
<polygon points="590.0,951.0 607.0,951.0 607.0,947.0 590.0,947.0" fill="#6D6E71" fill-opacity="0.72"/>
<polygon points="551.7,954.7 582.3,935.5 579.7,931.3 549.1,950.5" fill="#6D6E71" fill-opacity="0.72"/>
<polygon points="571.8,939.6 588.8,951.6 591.2,948.4 574.2,936.4" fill="#6D6E71" fill-opacity="0.72"/>
<polygon points="1002.9,527.7 1033.1,512.7 1030.5,507.3 1000.3,522.3" fill="#6D6E71" fill-opacity="0.72"/>
<polygon points="1009.5,547.2 1041.2,530.5 1038.8,526.1 1007.1,542.8" fill="#6D6E71" fill-opacity="0.72"/>
<polygon points="1027.5,569.8 1056.0,553.0 1054.4,550.4 1025.9,567.2" fill="#6D6E71" fill-opacity="0.72"/>
<polygon points="1030.8,578.1 1059.4,561.3 1057.8,558.7 1029.2,575.5" fill="#6D6E71" fill-opacity="0.72"/>
<polygon points="945.6,672.4 979.1,679.1 980.5,672.3 947.0,665.6" fill="#6D6E71" fill-opacity="0.72"/>
<polygon points="1153.4,289.5 1184.9,275.2 1183.1,271.2 1151.6,285.5" fill="#6D6E71" fill-opacity="0.72"/>
<polygon points="1146.8,318.1 1182.8,312.7 1181.2,301.9 1145.2,307.3" fill="#6D6E71" fill-opacity="0.72"/>
<polygon points="1148.2,326.5 1171.2,323.2 1170.8,320.2 1147.8,323.5" fill="#6D6E71" fill-opacity="0.72"/>
<polygon points="1151.9,344.3 1184.3,339.0 1183.7,335.0 1151.3,340.3" fill="#6D6E71" fill-opacity="0.72"/>
<line x1="1209.0" y1="220.2" x2="1181.9" y2="263.9" stroke="#000" stroke-width="1.4"/>
<path d="M1175.0,275.0 Q1178.2,266.4 1179.4,256.5 L1182.4,263.1 L1189.6,262.9 Q1181.3,268.3 1175.0,275.0 Z" fill="#000"/>
<line x1="1079.0" y1="319.6" x2="1131.5" y2="316.7" stroke="#000" stroke-width="1.4"/>
<path d="M1144.5,316.0 Q1135.6,318.3 1126.9,323.0 L1130.5,316.8 L1126.2,311.0 Q1135.4,314.7 1144.5,316.0 Z" fill="#000"/>
<line x1="1079.0" y1="319.6" x2="1126.5" y2="323.5" stroke="#000" stroke-width="1.4"/>
<path d="M1139.5,324.6 Q1130.4,325.7 1121.1,329.1 L1125.5,323.4 L1122.1,317.1 Q1130.7,322.1 1139.5,324.6 Z" fill="#000"/>
<line x1="1079.0" y1="319.6" x2="1137.1" y2="336.1" stroke="#000" stroke-width="1.4"/>
<path d="M1149.6,339.7 Q1140.5,339.0 1130.6,340.5 L1136.1,335.9 L1133.9,329.0 Q1141.4,335.5 1149.6,339.7 Z" fill="#000"/>
<line x1="915.3" y1="560.7" x2="983.0" y2="536.1" stroke="#000" stroke-width="1.4"/>
<path d="M995.3,531.7 Q987.5,536.5 980.4,543.5 L982.1,536.5 L976.3,532.2 Q986.2,533.1 995.3,531.7 Z" fill="#000"/>
<line x1="915.3" y1="560.7" x2="992.4" y2="548.7" stroke="#000" stroke-width="1.4"/>
<path d="M1005.3,546.7 Q996.7,549.9 988.4,555.4 L991.4,548.9 L986.6,543.5 Q996.1,546.3 1005.3,546.7 Z" fill="#000"/>
<line x1="915.3" y1="560.7" x2="1007.3" y2="568.2" stroke="#000" stroke-width="1.4"/>
<path d="M1020.3,569.3 Q1011.2,570.4 1001.9,573.8 L1006.3,568.2 L1002.8,561.9 Q1011.5,566.8 1020.3,569.3 Z" fill="#000"/>
<line x1="915.3" y1="560.7" x2="1009.1" y2="576.2" stroke="#000" stroke-width="1.4"/>
<path d="M1022.0,578.3 Q1012.8,578.6 1003.3,581.3 L1008.1,576.0 L1005.2,569.5 Q1013.4,575.1 1022.0,578.3 Z" fill="#000"/>
<line x1="878.7" y1="680.7" x2="927.4" y2="674.9" stroke="#000" stroke-width="1.4"/>
<path d="M940.3,673.3 Q931.6,676.2 923.1,681.4 L926.4,675.0 L921.7,669.5 Q931.1,672.6 940.3,673.3 Z" fill="#000"/>
<line x1="540.9" y1="840.5" x2="592.4" y2="896.3" stroke="#000" stroke-width="1.4"/>
<path d="M601.2,905.9 Q593.8,900.5 584.6,896.7 L591.7,895.6 L593.4,888.6 Q596.4,898.1 601.2,905.9 Z" fill="#000"/>
<line x1="540.9" y1="840.5" x2="595.3" y2="917.1" stroke="#000" stroke-width="1.4"/>
<path d="M602.9,927.7 Q596.2,921.4 587.6,916.5 L594.8,916.3 L597.4,909.6 Q599.2,919.3 602.9,927.7 Z" fill="#000"/>
<line x1="540.9" y1="840.5" x2="594.7" y2="934.7" stroke="#000" stroke-width="1.4"/>
<path d="M601.2,946.0 Q595.2,939.1 587.1,933.3 L594.2,933.8 L597.5,927.4 Q598.3,937.3 601.2,946.0 Z" fill="#000"/>
<line x1="458.8" y1="885.8" x2="546.4" y2="937.2" stroke="#000" stroke-width="1.4"/>
<path d="M557.6,943.8 Q548.9,940.8 539.0,939.9 L545.5,936.7 L545.1,929.5 Q550.7,937.7 557.6,943.8 Z" fill="#000"/>
<line x1="711.8" y1="971.2" x2="660.8" y2="1020.8" stroke="#000" stroke-width="1.4"/>
<path d="M651.4,1029.9 Q656.6,1022.3 660.1,1013.1 L661.5,1020.1 L668.5,1021.7 Q659.1,1024.9 651.4,1029.9 Z" fill="#000"/>
<line x1="711.8" y1="971.2" x2="677.2" y2="1043.2" stroke="#000" stroke-width="1.4"/>
<path d="M671.6,1055.0 Q673.9,1046.1 674.0,1036.2 L677.7,1042.3 L684.8,1041.4 Q677.1,1047.7 671.6,1055.0 Z" fill="#000"/>
<line x1="381.0" y1="1031.3" x2="439.8" y2="1057.1" stroke="#000" stroke-width="1.4"/>
<path d="M451.7,1062.3 Q442.7,1060.3 432.8,1060.6 L438.8,1056.7 L437.6,1049.6 Q444.2,1057.0 451.7,1062.3 Z" fill="#000"/>
<line x1="381.0" y1="1031.3" x2="439.0" y2="1067.8" stroke="#000" stroke-width="1.4"/>
<path d="M450.0,1074.7 Q441.4,1071.4 431.6,1070.2 L438.1,1067.2 L438.0,1060.0 Q443.3,1068.4 450.0,1074.7 Z" fill="#000"/>
<line x1="381.0" y1="1031.3" x2="441.6" y2="1081.4" stroke="#000" stroke-width="1.4"/>
<path d="M451.7,1089.7 Q443.6,1085.4 434.0,1082.9 L440.9,1080.8 L441.6,1073.6 Q445.9,1082.6 451.7,1089.7 Z" fill="#000"/>
<line x1="333.3" y1="1145.3" x2="402.6" y2="1123.0" stroke="#000" stroke-width="1.4"/>
<path d="M415.0,1119.0 Q407.0,1123.5 399.7,1130.2 L401.6,1123.3 L396.0,1118.8 Q405.9,1120.0 415.0,1119.0 Z" fill="#000"/>
<line x1="333.3" y1="1145.3" x2="403.8" y2="1136.3" stroke="#000" stroke-width="1.4"/>
<path d="M416.7,1134.7 Q408.0,1137.6 399.6,1142.9 L402.8,1136.5 L398.1,1131.0 Q407.5,1134.0 416.7,1134.7 Z" fill="#000"/>
<line x1="333.3" y1="1145.3" x2="408.7" y2="1150.4" stroke="#000" stroke-width="1.4"/>
<path d="M421.7,1151.3 Q412.6,1152.5 403.3,1156.1 L407.7,1150.3 L404.1,1144.1 Q412.8,1148.9 421.7,1151.3 Z" fill="#000"/>
<line x1="544.2" y1="1185.7" x2="561.2" y2="1164.1" stroke="#000" stroke-width="1.4"/>
<path d="M569.3,1153.9 Q565.1,1162.1 562.9,1171.7 L560.6,1164.9 L553.4,1164.3 Q562.3,1159.8 569.3,1153.9 Z" fill="#000"/>
<line x1="353.3" y1="1284.0" x2="423.7" y2="1279.5" stroke="#000" stroke-width="1.4"/>
<path d="M436.7,1278.7 Q427.8,1281.1 419.1,1285.8 L422.7,1279.6 L418.4,1273.9 Q427.6,1277.5 436.7,1278.7 Z" fill="#000"/>
<line x1="383.3" y1="1356.3" x2="427.1" y2="1350.7" stroke="#000" stroke-width="1.4"/>
<path d="M440.0,1349.0 Q431.3,1351.9 422.9,1357.2 L426.1,1350.8 L421.4,1345.3 Q430.8,1348.4 440.0,1349.0 Z" fill="#000"/>
<line x1="283.3" y1="1513.0" x2="230.8" y2="1497.4" stroke="#000" stroke-width="1.4"/>
<path d="M218.3,1493.7 Q227.4,1494.5 237.3,1493.1 L231.8,1497.7 L233.8,1504.6 Q226.4,1498.0 218.3,1493.7 Z" fill="#000"/>
<line x1="283.3" y1="1513.0" x2="231.1" y2="1522.4" stroke="#000" stroke-width="1.4"/>
<path d="M218.3,1524.7 Q226.8,1521.3 235.0,1515.6 L232.1,1522.2 L237.1,1527.4 Q227.5,1524.9 218.3,1524.7 Z" fill="#000"/>
<line x1="170.0" y1="1687.3" x2="193.9" y2="1719.5" stroke="#000" stroke-width="1.4"/>
<path d="M201.7,1730.0 Q194.9,1723.8 186.2,1719.1 L193.3,1718.7 L195.8,1712.0 Q197.8,1721.7 201.7,1730.0 Z" fill="#000"/>
<line x1="1135.7" y1="1063.0" x2="1086.0" y2="1025.3" stroke="#000" stroke-width="1.4"/>
<path d="M1075.6,1017.4 Q1083.9,1021.4 1093.6,1023.5 L1086.8,1025.9 L1086.3,1033.1 Q1081.7,1024.3 1075.6,1017.4 Z" fill="#000"/>
<line x1="1135.7" y1="1063.0" x2="1094.7" y2="1042.6" stroke="#000" stroke-width="1.4"/>
<path d="M1083.0,1036.8 Q1091.9,1039.2 1101.8,1039.4 L1095.6,1043.1 L1096.4,1050.2 Q1090.3,1042.4 1083.0,1036.8 Z" fill="#000"/>
<line x1="1122.0" y1="1203.0" x2="1052.3" y2="1138.5" stroke="#000" stroke-width="1.4"/>
<path d="M1042.7,1129.6 Q1050.5,1134.4 1060.0,1137.4 L1053.0,1139.1 L1051.8,1146.2 Q1048.1,1137.0 1042.7,1129.6 Z" fill="#000"/>
<line x1="1122.0" y1="1203.0" x2="1062.1" y2="1176.8" stroke="#000" stroke-width="1.4"/>
<path d="M1050.2,1171.6 Q1059.2,1173.6 1069.1,1173.3 L1063.1,1177.2 L1064.3,1184.3 Q1057.7,1176.9 1050.2,1171.6 Z" fill="#000"/>
<line x1="1122.0" y1="1203.0" x2="1069.0" y2="1193.3" stroke="#000" stroke-width="1.4"/>
<path d="M1056.2,1191.0 Q1065.4,1190.8 1075.0,1188.3 L1070.0,1193.5 L1072.8,1200.1 Q1064.7,1194.4 1056.2,1191.0 Z" fill="#000"/>
<line x1="1051.7" y1="1483.0" x2="972.0" y2="1318.0" stroke="#000" stroke-width="1.4"/>
<path d="M966.3,1306.3 Q971.8,1313.6 979.5,1319.9 L972.4,1318.9 L968.7,1325.1 Q968.6,1315.2 966.3,1306.3 Z" fill="#000"/>
<line x1="1051.7" y1="1483.0" x2="976.3" y2="1363.7" stroke="#000" stroke-width="1.4"/>
<path d="M969.3,1352.7 Q975.6,1359.3 984.0,1364.7 L976.8,1364.6 L973.8,1371.1 Q972.6,1361.3 969.3,1352.7 Z" fill="#000"/>
<line x1="1051.7" y1="1483.0" x2="985.1" y2="1401.7" stroke="#000" stroke-width="1.4"/>
<path d="M976.8,1391.6 Q983.9,1397.4 992.8,1401.7 L985.7,1402.5 L983.6,1409.3 Q981.1,1399.7 976.8,1391.6 Z" fill="#000"/>
<line x1="1051.7" y1="1483.0" x2="998.2" y2="1448.1" stroke="#000" stroke-width="1.4"/>
<path d="M987.3,1441.0 Q995.8,1444.4 1005.7,1445.8 L999.1,1448.7 L999.1,1455.9 Q993.9,1447.4 987.3,1441.0 Z" fill="#000"/>
<line x1="877.0" y1="1271.0" x2="932.5" y2="1185.9" stroke="#000" stroke-width="3.8"/>
<path d="M952.0,1156.0 Q942.8,1178.1 938.5,1203.3 L932.0,1186.7 L914.2,1187.4 Q935.5,1173.3 952.0,1156.0 Z" fill="#000"/>
<line x1="707.0" y1="1591.6" x2="774.4" y2="1476.1" stroke="#000" stroke-width="3.1"/>
<path d="M791.2,1447.3 Q783.5,1468.3 780.3,1491.9 L773.9,1476.9 L757.8,1478.8 Q776.7,1464.3 791.2,1447.3 Z" fill="#000"/>
<line x1="707.0" y1="1591.6" x2="773.9" y2="1520.0" stroke="#000" stroke-width="3.1"/>
<path d="M796.6,1495.7 Q784.4,1514.4 776.1,1536.7 L773.2,1520.8 L757.1,1519.0 Q778.7,1509.1 796.6,1495.7 Z" fill="#000"/>
<line x1="707.0" y1="1591.6" x2="777.0" y2="1535.8" stroke="#000" stroke-width="3.1"/>
<path d="M803.0,1515.0 Q788.2,1531.8 776.7,1552.6 L776.2,1536.4 L760.5,1532.3 Q783.4,1525.7 803.0,1515.0 Z" fill="#000"/>
<line x1="707.0" y1="1597.0" x2="781.8" y2="1603.7" stroke="#000" stroke-width="3.1"/>
<path d="M815.0,1606.7 Q792.7,1608.6 770.0,1615.7 L780.8,1603.6 L772.3,1589.8 Q793.4,1600.8 815.0,1606.7 Z" fill="#000"/>
<line x1="707.0" y1="1597.0" x2="786.5" y2="1624.0" stroke="#000" stroke-width="3.1"/>
<path d="M818.0,1634.7 Q795.9,1631.3 772.2,1632.9 L785.5,1623.7 L780.5,1608.2 Q798.4,1623.9 818.0,1634.7 Z" fill="#000"/>
<line x1="1379.0" y1="579.0" x2="1385.6" y2="538.2" stroke="#000" stroke-width="3.2"/>
<path d="M1391.0,505.3 Q1391.5,527.7 1397.3,550.9 L1385.5,539.2 L1370.6,546.6 Q1383.5,526.4 1391.0,505.3 Z" fill="#000"/>
<line x1="1354.0" y1="615.0" x2="1327.9" y2="634.1" stroke="#000" stroke-width="3.2"/>
<path d="M1301.0,653.7 Q1316.4,637.5 1328.6,616.8 L1328.7,633.5 L1344.5,638.7 Q1321.2,644.0 1301.0,653.7 Z" fill="#000"/>
<line x1="1317.0" y1="740.0" x2="1286.8" y2="734.7" stroke="#000" stroke-width="3.2"/>
<path d="M1254.0,729.0 Q1276.4,728.8 1299.7,723.3 L1287.8,734.9 L1295.0,749.9 Q1275.0,736.8 1254.0,729.0 Z" fill="#000"/>
<line x1="1193.0" y1="936.5" x2="1148.5" y2="948.1" stroke="#000" stroke-width="3.2"/>
<path d="M1116.3,956.5 Q1136.6,947.0 1155.5,932.3 L1149.5,947.8 L1162.3,958.5 Q1138.6,954.9 1116.3,956.5 Z" fill="#000"/>
<rect x="1143.5" y="177.0" width="171.5" height="43.2" rx="21.5" ry="21.5" fill="#fff" stroke="#1a1a1a" stroke-width="1.4"/>
<text x="1159.7" y="207.6" font-size="18.6" font-weight="normal" fill="#111" textLength="141.9" lengthAdjust="spacingAndGlyphs" >4m @ 0.72 g/t Au</text>
<rect x="895.4" y="275.3" width="182.6" height="88.1" rx="14.0" ry="14.0" fill="#fff" stroke="#1a1a1a" stroke-width="1.4"/>
<text x="917.0" y="295.4" font-size="18.6" font-weight="normal" fill="#111" textLength="142.0" lengthAdjust="spacingAndGlyphs" >3m @ 2.77 g/t Au</text>
<text x="918.6" y="326.0" font-size="18.6" font-weight="normal" fill="#111" textLength="141.9" lengthAdjust="spacingAndGlyphs" >3m @ 0.70 g/t Au</text>
<text x="900.5" y="358.3" font-size="18.6" font-weight="normal" fill="#111" textLength="166.0" lengthAdjust="spacingAndGlyphs" >1.82m @ 0.36 g/t Au</text>
<rect x="752.0" y="498.3" width="165.0" height="110.0" rx="15.0" ry="15.0" fill="#fff" stroke="#1a1a1a" stroke-width="1.4"/>
<text x="761.0" y="521.0" font-size="18.6" font-weight="normal" fill="#111" textLength="142.7" lengthAdjust="spacingAndGlyphs" >2m @ 1.19 g/t Au</text>
<text x="762.0" y="542.7" font-size="18.6" font-weight="normal" fill="#111" textLength="141.7" lengthAdjust="spacingAndGlyphs" >1m @ 1.74 g/t Au</text>
<text x="761.0" y="570.7" font-size="18.6" font-weight="normal" fill="#111" textLength="141.0" lengthAdjust="spacingAndGlyphs" >1m @ 0.56 g/t Au</text>
<text x="762.0" y="601.0" font-size="18.6" font-weight="normal" fill="#111" textLength="141.7" lengthAdjust="spacingAndGlyphs" >1m @ 0.37 g/t Au</text>
<rect x="707.7" y="642.7" width="171.0" height="52.3" rx="16.5" ry="16.5" fill="#fff" stroke="#1a1a1a" stroke-width="1.4"/>
<text x="718.7" y="678.3" font-size="18.6" font-weight="normal" fill="#111" textLength="142.3" lengthAdjust="spacingAndGlyphs" >2m @ 0.54 g/t Au</text>
<rect x="350.0" y="738.3" width="231.0" height="102.4" rx="17.0" ry="17.0" fill="#fff" stroke="#1a1a1a" stroke-width="1.4"/>
<text x="355.0" y="773.3" font-size="18.6" font-weight="normal" fill="#111" textLength="141.7" lengthAdjust="spacingAndGlyphs" >1m @ 0.51 g/t Au</text>
<text x="355.0" y="801.0" font-size="18.6" font-weight="normal" fill="#111" textLength="141.7" lengthAdjust="spacingAndGlyphs" >3m @ 0.33 g/t Au</text>
<text x="355.0" y="830.0" font-size="18.6" font-weight="normal" fill="#111" textLength="141.7" lengthAdjust="spacingAndGlyphs" >1m @ 0.67 g/t Au</text>
<rect x="266.7" y="855.0" width="192.6" height="41.7" rx="20.5" ry="20.5" fill="#fff" stroke="#1a1a1a" stroke-width="1.4"/>
<text x="275.0" y="880.7" font-size="18.6" font-weight="normal" fill="#111" textLength="168.3" lengthAdjust="spacingAndGlyphs" >0.85m @ 0.51 g/t Au</text>
<rect x="656.5" y="900.9" width="239.5" height="70.3" rx="17.0" ry="17.0" fill="#fff" stroke="#1a1a1a" stroke-width="1.4"/>
<text x="667.5" y="932.7" font-size="18.6" font-weight="normal" fill="#111" textLength="141.5" lengthAdjust="spacingAndGlyphs" >9m @ 2.85 g/t Au</text>
<text x="667.5" y="960.5" font-size="18.6" font-weight="normal" fill="#111" textLength="142.0" lengthAdjust="spacingAndGlyphs" >7m @ 3.49 g/t Au</text>
<rect x="195.0" y="975.7" width="186.0" height="95.6" rx="19.5" ry="19.5" fill="#fff" stroke="#1a1a1a" stroke-width="1.4"/>
<text x="202.3" y="999.0" font-size="18.6" font-weight="normal" fill="#111" textLength="167.0" lengthAdjust="spacingAndGlyphs" >0.75m @ 0.81 g/t Au</text>
<text x="224.0" y="1029.7" font-size="18.6" font-weight="normal" fill="#111" textLength="140.3" lengthAdjust="spacingAndGlyphs" >1m @ 0.47 g/t Au</text>
<text x="224.0" y="1058.7" font-size="18.6" font-weight="normal" fill="#111" textLength="139.3" lengthAdjust="spacingAndGlyphs" >1m @ 0.35 g/t Au</text>
<rect x="164.0" y="1106.3" width="167.7" height="84.0" rx="18.0" ry="18.0" fill="#fff" stroke="#1a1a1a" stroke-width="1.4"/>
<text x="169.0" y="1128.0" font-size="18.6" font-weight="normal" fill="#111" textLength="155.0" lengthAdjust="spacingAndGlyphs" >1.8m @ 2.79 g/t Au</text>
<text x="176.7" y="1153.7" font-size="18.6" font-weight="normal" fill="#111" textLength="140.0" lengthAdjust="spacingAndGlyphs" >1m @ 2.17 g/t Au</text>
<text x="176.0" y="1182.3" font-size="18.6" font-weight="normal" fill="#111" textLength="142.3" lengthAdjust="spacingAndGlyphs" >5m @ 0.37 g/t Au</text>
<rect x="363.3" y="1183.7" width="189.4" height="42.0" rx="21.0" ry="21.0" fill="#fff" stroke="#1a1a1a" stroke-width="1.4"/>
<text x="376.0" y="1214.7" font-size="18.6" font-weight="normal" fill="#111" textLength="164.7" lengthAdjust="spacingAndGlyphs" >13.6m @ 2.41 g/t Au</text>
<rect x="180.0" y="1263.0" width="173.3" height="43.3" rx="21.5" ry="21.5" fill="#fff" stroke="#1a1a1a" stroke-width="1.4"/>
<text x="192.7" y="1294.0" font-size="18.6" font-weight="normal" fill="#111" textLength="150.6" lengthAdjust="spacingAndGlyphs" >11m @ 5.93 g/t Au</text>
<rect x="216.7" y="1335.7" width="166.6" height="42.3" rx="21.0" ry="21.0" fill="#fff" stroke="#1a1a1a" stroke-width="1.4"/>
<text x="230.7" y="1367.3" font-size="18.6" font-weight="normal" fill="#111" textLength="141.0" lengthAdjust="spacingAndGlyphs" >6m @ 9.14 g/t Au</text>
<rect x="284.0" y="1484.7" width="170.0" height="61.6" rx="17.0" ry="17.0" fill="#fff" stroke="#1a1a1a" stroke-width="1.4"/>
<text x="296.0" y="1504.0" font-size="18.6" font-weight="normal" fill="#111" textLength="141.3" lengthAdjust="spacingAndGlyphs" >6m @ 0.46 g/t Au</text>
<text x="296.0" y="1534.0" font-size="18.6" font-weight="normal" fill="#111" textLength="142.3" lengthAdjust="spacingAndGlyphs" >7m @ 1.54 g/t Au</text>
<rect x="16.0" y="1645.0" width="175.7" height="41.7" rx="20.5" ry="20.5" fill="#fff" stroke="#1a1a1a" stroke-width="1.4"/>
<text x="31.7" y="1675.0" font-size="18.6" font-weight="normal" fill="#111" textLength="142.3" lengthAdjust="spacingAndGlyphs" >4m @ 1.65 g/t Au</text>
<rect x="1140.2" y="1035.0" width="180.3" height="61.8" rx="15.5" ry="15.5" fill="#fff" stroke="#1a1a1a" stroke-width="1.4"/>
<text x="1154.7" y="1057.3" font-size="18.6" font-weight="normal" fill="#111" textLength="157.6" lengthAdjust="spacingAndGlyphs" >4.2m @ 1.80 g/t Au</text>
<text x="1156.7" y="1088.0" font-size="18.6" font-weight="normal" fill="#111" textLength="155.6" lengthAdjust="spacingAndGlyphs" >1.7m @ 0.50 g/t Au</text>
<rect x="1123.0" y="1175.7" width="172.7" height="100.0" rx="14.5" ry="14.5" fill="#fff" stroke="#1a1a1a" stroke-width="1.9"/>
<text x="1134.7" y="1199.7" font-size="18.6" font-weight="normal" fill="#111" textLength="151.6" lengthAdjust="spacingAndGlyphs" >17m @ 1.05 g/t Au</text>
<text x="1144.0" y="1229.7" font-size="18.6" font-weight="normal" fill="#111" textLength="140.7" lengthAdjust="spacingAndGlyphs" >1m @ 0.32 g/t Au</text>
<text x="1146.3" y="1261.3" font-size="18.6" font-weight="normal" fill="#111" textLength="141.0" lengthAdjust="spacingAndGlyphs" >1m @ 0.58 g/t Au</text>
<rect x="1046.5" y="1483.6" width="203.2" height="142.2" rx="18.5" ry="18.5" fill="#fff" stroke="#1a1a1a" stroke-width="2.1"/>
<text x="1057.3" y="1507.6" font-size="18.6" font-weight="normal" fill="#111" textLength="176.7" lengthAdjust="spacingAndGlyphs" >21.75m @ 5.25 g/t Au</text>
<text x="1094.0" y="1543.0" font-size="18.6" font-weight="normal" fill="#111" textLength="141.0" lengthAdjust="spacingAndGlyphs" >2m @ 1.86 g/t Au</text>
<text x="1092.5" y="1581.3" font-size="18.6" font-weight="normal" fill="#111" textLength="141.5" lengthAdjust="spacingAndGlyphs" >4m @ 2.99 g/t Au</text>
<text x="1081.7" y="1618.0" font-size="18.6" font-weight="normal" fill="#111" textLength="152.3" lengthAdjust="spacingAndGlyphs" >6.6m @2.37 g/t Au</text>
<rect x="494.4" y="1275.2" width="391.1" height="61.6" rx="17.0" ry="17.0" fill="#fff" stroke="#000" stroke-width="6.3"/>
<text x="512.4" y="1318.0" font-size="34.5" font-weight="bold" fill="#ED1C24" textLength="358.6" lengthAdjust="spacingAndGlyphs" >13.9 m @ 1.03 g/t Au</text>
<rect x="307.0" y="1554.4" width="395.6" height="204.4" rx="19.0" ry="19.0" fill="#fff" stroke="#000" stroke-width="5.5"/>
<text x="321.7" y="1601.7" font-size="34.5" font-weight="bold" fill="#ED1C24" textLength="363.3" lengthAdjust="spacingAndGlyphs" >4.23 m @ 2.46 g/t Au</text>
<text x="322.7" y="1645.0" font-size="34.5" font-weight="bold" fill="#ED1C24" textLength="362.3" lengthAdjust="spacingAndGlyphs" >2.35 m @ 0.33 g/t Au</text>
<text x="361.7" y="1692.7" font-size="34.5" font-weight="bold" fill="#ED1C24" textLength="280.3" lengthAdjust="spacingAndGlyphs" >1 m @ 0.3 g/t Au</text>
<text x="339.3" y="1736.0" font-size="34.5" font-weight="bold" fill="#ED1C24" textLength="337.7" lengthAdjust="spacingAndGlyphs" >2.6 m @ 3.94 g/t Au</text>
<rect x="1355.5" y="581.0" width="162.5" height="41.5" rx="20.7" ry="20.7" fill="#fff" stroke="#000" stroke-width="4.0"/>
<text x="1365.0" y="608.3" font-size="28.0" font-weight="bold" fill="#ED1C24" textLength="143.0" lengthAdjust="spacingAndGlyphs" >No Sig. Int.</text>
<rect x="1318.5" y="722.5" width="162.0" height="41.5" rx="20.7" ry="20.7" fill="#fff" stroke="#000" stroke-width="4.0"/>
<text x="1328.3" y="750.0" font-size="28.0" font-weight="bold" fill="#ED1C24" textLength="143.4" lengthAdjust="spacingAndGlyphs" >No Sig. Int.</text>
<rect x="1194.0" y="915.5" width="162.0" height="41.0" rx="20.5" ry="20.5" fill="#fff" stroke="#000" stroke-width="4.0"/>
<text x="1203.3" y="943.7" font-size="28.0" font-weight="bold" fill="#ED1C24" textLength="144.0" lengthAdjust="spacingAndGlyphs" >No Sig. Int.</text>
<rect x="419.8" y="1852.5" width="275.2" height="57.0" rx="26.0" ry="26.0" fill="#fff" stroke="#000" stroke-width="2.2"/>
<text x="428.3" y="1895.0" font-size="46.0" font-weight="bold" fill="#000" textLength="257.0" lengthAdjust="spacingAndGlyphs" >“New Lens”</text>
<polyline points="3.0,231.3 200.0,232.8 300.0,234.5 417.0,235.3 500.0,233.5 593.0,230.5 650.0,231.5 704.0,233.8 770.0,238.0 840.0,242.8 900.0,245.0 981.0,247.6 1080.0,248.8 1182.0,249.2 1662.0,249.2" fill="none" stroke="#000" stroke-width="4.6" stroke-linejoin="round"/>
<rect x="26.6" y="34.6" width="433" height="96.4" fill="#fff"/>
<text transform="translate(19.94,93.3) scale(1.355,1)" x="0" y="0" font-size="75.4" font-weight="bold" fill="#0a0a0a">M</text>
<text transform="translate(108.50,93.3) scale(1.405,1)" x="0" y="0" font-size="75.4" font-weight="bold" fill="#0a0a0a">A</text>
<text transform="translate(186.09,93.3) scale(1.100,1)" x="0" y="0" font-size="75.4" font-weight="bold" fill="#0a0a0a">W</text>
<text transform="translate(261.01,93.3) scale(1.471,1)" x="0" y="0" font-size="75.4" font-weight="bold" fill="#0a0a0a">S</text>
<text transform="translate(389.96,93.3) scale(1.407,1)" x="0" y="0" font-size="75.4" font-weight="bold" fill="#0a0a0a">N</text>
<circle cx="362.4" cy="65.7" r="29.7" fill="url(#globe)"/>
<rect x="359.8" y="34.6" width="5.2" height="62" fill="#fff"/><rect x="331" y="63.2" width="63" height="5" fill="#fff"/>
<g clip-path="url(#logoc)">
<text x="23.5" y="134.0" font-size="41.0" font-weight="normal" fill="#808285" textLength="437.0" lengthAdjust="spacingAndGlyphs" stroke="#fff" stroke-width="1.5">Finland Limited</text>
</g>
<text x="509.3" y="106.4" font-size="56.0" font-weight="bold" fill="#000" textLength="1072.5" lengthAdjust="spacingAndGlyphs" >South Palokas &amp; New Lens cross-section</text>
<text x="509.0" y="177.4" font-size="56.0" font-weight="bold" fill="#000" textLength="254.5" lengthAdjust="spacingAndGlyphs" >July 2025</text>
<text transform="translate(31.2,207) scale(0.915,1)" x="0" y="0" font-size="53" font-weight="bold" fill="#000">B</text>
<text transform="translate(1579.3,212.3) scale(0.915,1)" x="0" y="0" font-size="55.5" font-weight="bold" fill="#000">B′</text>
<rect x="1186" y="1645.4" width="461.2" height="394" fill="#fff" stroke="#000" stroke-width="5.5"/>
<text x="1244.0" y="1695.0" font-size="37.5" font-weight="bold" fill="#000" textLength="138.3" lengthAdjust="spacingAndGlyphs" >Legend</text>
<text x="1271.3" y="1757.3" font-size="27.5" font-weight="bold" fill="#111" textLength="197.0" lengthAdjust="spacingAndGlyphs" >Drillhole trace</text>
<text x="1273.3" y="1841.7" font-size="27.5" font-weight="bold" fill="#111" textLength="360.7" lengthAdjust="spacingAndGlyphs" >Drillhole trace, off section</text>
<text x="1282.3" y="1899.0" font-size="27.5" font-weight="bold" fill="#111" textLength="276.0" lengthAdjust="spacingAndGlyphs" >Mineralized interval</text>
<text x="1282.3" y="1935.0" font-size="27.5" font-weight="bold" fill="#111" textLength="146.7" lengthAdjust="spacingAndGlyphs" >of drillhole</text>
<text x="1284.0" y="1982.3" font-size="27.5" font-weight="bold" fill="#111" textLength="328.3" lengthAdjust="spacingAndGlyphs" >Interpreted mineralized</text>
<text x="1284.0" y="2018.3" font-size="27.5" font-weight="bold" fill="#111" textLength="136.7" lengthAdjust="spacingAndGlyphs" >zone/lens</text>
<line x1="1224" y1="1715" x2="1249" y2="1779.3" stroke="#111" stroke-width="1.5"/>
<line x1="1220" y1="1795" x2="1252.3" y2="1870" stroke="#111" stroke-width="1.5" stroke-dasharray="13 5"/>
<polygon points="1224.7,1907.3 1251.3,1895.0 1259.7,1913.3 1233.0,1925.0" fill="#000" />
<polygon points="1253.3,1944.3 1275.3,1960.0 1230.7,2021.7 1209.0,2006.0" fill="#ED1C24" />
</g>
<rect x="2.5" y="2.5" width="1657.6" height="2039.3" fill="none" stroke="#000" stroke-width="5"/>
</svg>
</body></html>
